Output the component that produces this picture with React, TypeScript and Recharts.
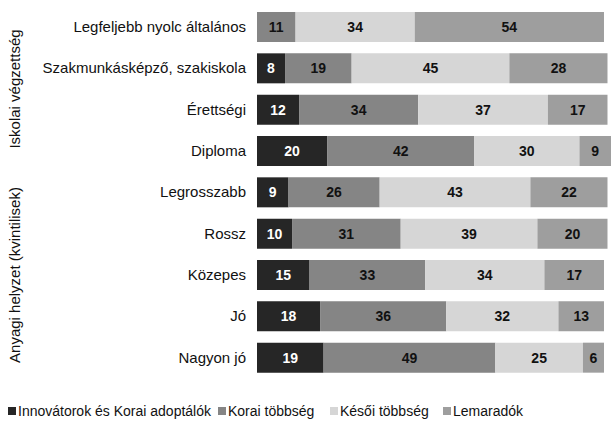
import { BarChart, Bar, XAxis, YAxis, LabelList } from "recharts";

const CATEGORIES = [
  "Legfeljebb nyolc általános",
  "Szakmunkásképző, szakiskola",
  "Érettségi",
  "Diploma",
  "Legrosszabb",
  "Rossz",
  "Közepes",
  "Jó",
  "Nagyon jó",
];

const INNOVATOROK = [0, 8, 12, 20, 9, 10, 15, 18, 19];
const KORAI = [11, 19, 34, 42, 26, 31, 33, 36, 49];
const KESOI = [34, 45, 37, 30, 43, 39, 34, 32, 25];
const LEMARADOK = [54, 28, 17, 9, 22, 20, 17, 13, 6];

const SERIES = [
  { key: "innov", name: "Innovátorok és Korai adoptálók", color: "#262626", text: "#ffffff", values: INNOVATOROK },
  { key: "korai", name: "Korai többség", color: "#858585", text: "#111111", values: KORAI },
  { key: "kesoi", name: "Késői többség", color: "#d6d6d6", text: "#111111", values: KESOI },
  { key: "lemar", name: "Lemaradók", color: "#9e9e9e", text: "#111111", values: LEMARADOK },
];

const GROUPS = [
  { label: "Iskolai végzettség", center: 89 },
  { label: "Anyagi helyzet (kvintilisek)", center: 275 },
];

const data = CATEGORIES.map((name, i) => {
  const row: Record<string, string | number> = { name };
  SERIES.forEach((s) => {
    row[s.key] = s.values[i];
  });
  return row;
});

const FONT = "'Liberation Sans', Arial, sans-serif";

const legendLeft = [8, 218, 330, 443];

export default function App() {
  return (
    <div
      style={{
        position: "absolute",
        left: 0,
        top: 0,
        width: 613,
        height: 426,
        background: "#fff",
        fontFamily: FONT,
      }}
    >
      <BarChart
        width={613}
        height={426}
        data={data}
        layout="vertical"
        barSize={30}
        margin={{ top: 6, right: 2, bottom: 48, left: 0 }}
      >
        <XAxis type="number" domain={[0, 100]} hide />
        <YAxis
          type="category"
          dataKey="name"
          width={257}
          axisLine={false}
          tickLine={false}
          tickSize={0}
          tickMargin={11}
          interval={0}
          tick={{ fontSize: 15, fill: "#111", fontFamily: FONT }}
        />
        {SERIES.map((s) => (
          <Bar
            key={s.key}
            dataKey={s.key}
            name={s.name}
            stackId="a"
            fill={s.color}
            isAnimationActive={false}
          >
            <LabelList
              dataKey={s.key}
              position="center"
              fill={s.text}
              fontSize={14}
              fontWeight="bold"
              fontFamily={FONT}
              formatter={(v: any) => (v === 0 ? "" : v)}
            />
          </Bar>
        ))}
      </BarChart>
      {SERIES.map((s, i) => (
        <div
          key={s.key}
          style={{
            position: "absolute",
            left: legendLeft[i],
            top: 403,
            display: "flex",
            alignItems: "center",
            fontSize: 14,
            color: "#111",
            whiteSpace: "nowrap",
          }}
        >
          <span
            style={{
              display: "inline-block",
              width: 8,
              height: 8,
              background: s.color,
              marginRight: 2,
            }}
          />
          <span>{s.name}</span>
        </div>
      ))}
      {GROUPS.map((g) => (
        <div
          key={g.label}
          style={{
            position: "absolute",
            left: 14,
            top: g.center,
            transform: "translate(-50%, -50%) rotate(-90deg)",
            whiteSpace: "nowrap",
            fontSize: 15,
            color: "#111",
          }}
        >
          {g.label}
        </div>
      ))}
    </div>
  );
}
